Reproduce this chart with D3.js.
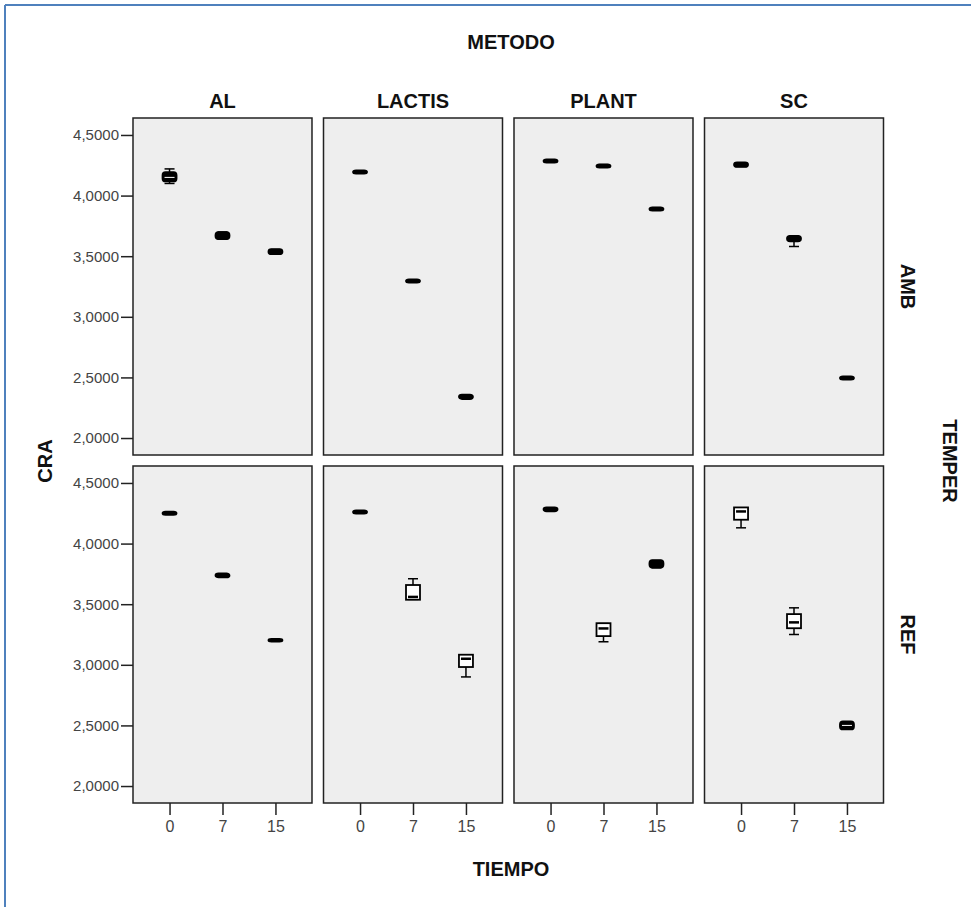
<!DOCTYPE html>
<html>
<head>
  <meta charset="utf-8">
  <title>CRA por METODO y TEMPER</title>
  <script src="https://d3js.org/d3.v7.min.js"></script>
  <style>
    body { margin: 0; background: #fff; }
    text { font-family: "Liberation Sans", Arial, sans-serif; }
    .tick text { fill: #444; }
    .tick line { stroke: #222; stroke-width: 1.5; }
    .title { font-weight: bold; font-size: 20px; fill: #111; }
  </style>
</head>
<body>
<svg id="chart" width="971" height="907"></svg>
<script>
// categories
var metodos = ["AL", "LACTIS", "PLANT", "SC"];
var tempers = ["AMB", "REF"];
var tiempos = ["0", "7", "15"];
var yTicks = [2.0, 2.5, 3.0, 3.5, 4.0, 4.5];

// box stats per tiempo: [min, q1, median, q3, max]
var alAmb     = [[4.10, 4.125, 4.15, 4.185, 4.22], [3.64, 3.65, 3.67, 3.69, 3.70], [3.52, 3.525, 3.535, 3.55, 3.555]];
var lactisAmb = [[4.19, 4.19, 4.195, 4.20, 4.20], [3.29, 3.29, 3.295, 3.30, 3.30], [2.33, 2.33, 2.34, 2.35, 2.35]];
var plantAmb  = [[4.275, 4.28, 4.285, 4.29, 4.295], [4.235, 4.24, 4.245, 4.25, 4.255], [3.88, 3.885, 3.89, 3.895, 3.90]];
var scAmb     = [[4.24, 4.245, 4.255, 4.265, 4.27], [3.58, 3.63, 3.64, 3.66, 3.665], [2.49, 2.49, 2.495, 2.50, 2.50]];
var alRef     = [[4.245, 4.245, 4.25, 4.255, 4.255], [3.73, 3.73, 3.735, 3.745, 3.745], [3.20, 3.20, 3.20, 3.205, 3.205]];
var lactisRef = [[4.255, 4.255, 4.26, 4.265, 4.27], [3.54, 3.545, 3.56, 3.65, 3.71], [2.90, 2.99, 3.05, 3.075, 3.08]];
var plantRef  = [[4.27, 4.275, 4.28, 4.29, 4.295], [3.19, 3.245, 3.30, 3.335, 3.34], [3.80, 3.81, 3.83, 3.855, 3.86]];
var scRef     = [[4.13, 4.205, 4.265, 4.29, 4.29], [3.25, 3.31, 3.35, 3.41, 3.47], [2.47, 2.475, 2.50, 2.525, 2.53]];

var panels = {
  AMB: { AL: alAmb, LACTIS: lactisAmb, PLANT: plantAmb, SC: scAmb },
  REF: { AL: alRef, LACTIS: lactisRef, PLANT: plantRef, SC: scRef }
};

var svg = d3.select("#chart");

// blue frame (top and left only, cropped)
svg.append("line").attr("x1", 5).attr("y1", 5).attr("x2", 971).attr("y2", 5)
  .attr("stroke", "#4f81bd").attr("stroke-width", 2);
svg.append("line").attr("x1", 5).attr("y1", 5).attr("x2", 5).attr("y2", 907)
  .attr("stroke", "#4f81bd").attr("stroke-width", 2);

var col = d3.scaleBand().domain(metodos).range([133, 883.5]).paddingInner(0.0604);
var row = d3.scaleBand().domain(tempers).range([118, 803]).paddingInner(0.0316);

var y = d3.scaleLinear().domain([1.86, 4.64]).range([row.bandwidth(), 0]);
var x = d3.scalePoint().domain(tiempos).range([0, col.bandwidth()]).padding(0.69);

var fmt = function(d) { return d3.format(".4f")(d).replace(".", ","); };
var boxW = 14, capW = 10;
// boxes this short come out as a solid blob in the original
var small = function(d) { return y(d[1]) - y(d[3]) < 9; };

tempers.forEach(function(t, ri) {
  metodos.forEach(function(m, ci) {
    var g = svg.append("g")
      .attr("transform", "translate(" + col(m) + "," + row(t) + ")");

    g.append("rect")
      .attr("width", col.bandwidth())
      .attr("height", row.bandwidth())
      .attr("fill", "#eeeeee")
      .attr("stroke", "#222")
      .attr("stroke-width", 1.5);

    if (ci === 0) {
      var ya = g.append("g")
        .call(d3.axisLeft(y).tickValues(yTicks).tickFormat(fmt).tickSize(12).tickPadding(2));
      ya.select(".domain").remove();
      ya.selectAll("text").style("font-size", "15px");
    }
    if (ri === tempers.length - 1) {
      var xa = g.append("g")
        .attr("transform", "translate(0," + row.bandwidth() + ")")
        .call(d3.axisBottom(x).tickSize(12).tickPadding(6));
      xa.select(".domain").remove();
      xa.selectAll("text").style("font-size", "16px");
    }

    var boxes = g.selectAll(".box")
      .data(panels[t][m])
      .enter().append("g")
      .attr("class", "box")
      .attr("transform", function(d, i) { return "translate(" + x(tiempos[i]) + ",0)"; });

    boxes.append("line")
      .attr("y1", function(d) { return y(d[0]); })
      .attr("y2", function(d) { return y(d[4]); })
      .attr("stroke", "#000").attr("stroke-width", 1.5);
    boxes.append("line")
      .attr("x1", -capW / 2).attr("x2", capW / 2)
      .attr("y1", function(d) { return y(d[0]); })
      .attr("y2", function(d) { return y(d[0]); })
      .attr("stroke", "#000").attr("stroke-width", 1.5);
    boxes.append("line")
      .attr("x1", -capW / 2).attr("x2", capW / 2)
      .attr("y1", function(d) { return y(d[4]); })
      .attr("y2", function(d) { return y(d[4]); })
      .attr("stroke", "#000").attr("stroke-width", 1.5);
    boxes.append("rect")
      .attr("x", -boxW / 2)
      .attr("width", boxW)
      .attr("y", function(d) { return y(d[3]) - 1; })
      .attr("height", function(d) { return y(d[1]) - y(d[3]) + 2; })
      .attr("rx", function(d) { return small(d) ? 3 : 0; })
      .attr("fill", function(d) { return small(d) ? "#000" : "#fff"; })
      .attr("stroke", "#000").attr("stroke-width", 1.8);
    boxes.append("line")
      .attr("x1", -boxW / 2 + 2).attr("x2", boxW / 2 - 2)
      .attr("y1", function(d) { return y(d[2]); })
      .attr("y2", function(d) { return y(d[2]); })
      .attr("stroke", function(d) { return small(d) ? "#fff" : "#000"; })
      .attr("stroke-width", function(d) { return small(d) ? (y(d[1]) - y(d[3]) > 6 ? 1 : 0) : 2.5; });
  });
});

// titles
svg.append("text").attr("class", "title").attr("x", 511).attr("y", 49)
  .attr("text-anchor", "middle").text("METODO");
metodos.forEach(function(m) {
  svg.append("text").attr("class", "title")
    .attr("x", col(m) + col.bandwidth() / 2).attr("y", 108)
    .attr("text-anchor", "middle").text(m);
});
tempers.forEach(function(t) {
  svg.append("text").attr("class", "title")
    .attr("transform", "translate(901," + (row(t) + row.bandwidth() / 2) + ") rotate(90)")
    .attr("text-anchor", "middle").text(t);
});
svg.append("text").attr("class", "title")
  .attr("transform", "translate(943,461) rotate(90)")
  .attr("text-anchor", "middle").text("TEMPER");
svg.append("text").attr("class", "title")
  .attr("transform", "translate(52,461) rotate(-90)")
  .attr("text-anchor", "middle").text("CRA");
svg.append("text").attr("class", "title").attr("x", 511).attr("y", 876)
  .attr("text-anchor", "middle").text("TIEMPO");
</script>
</body>
</html>
